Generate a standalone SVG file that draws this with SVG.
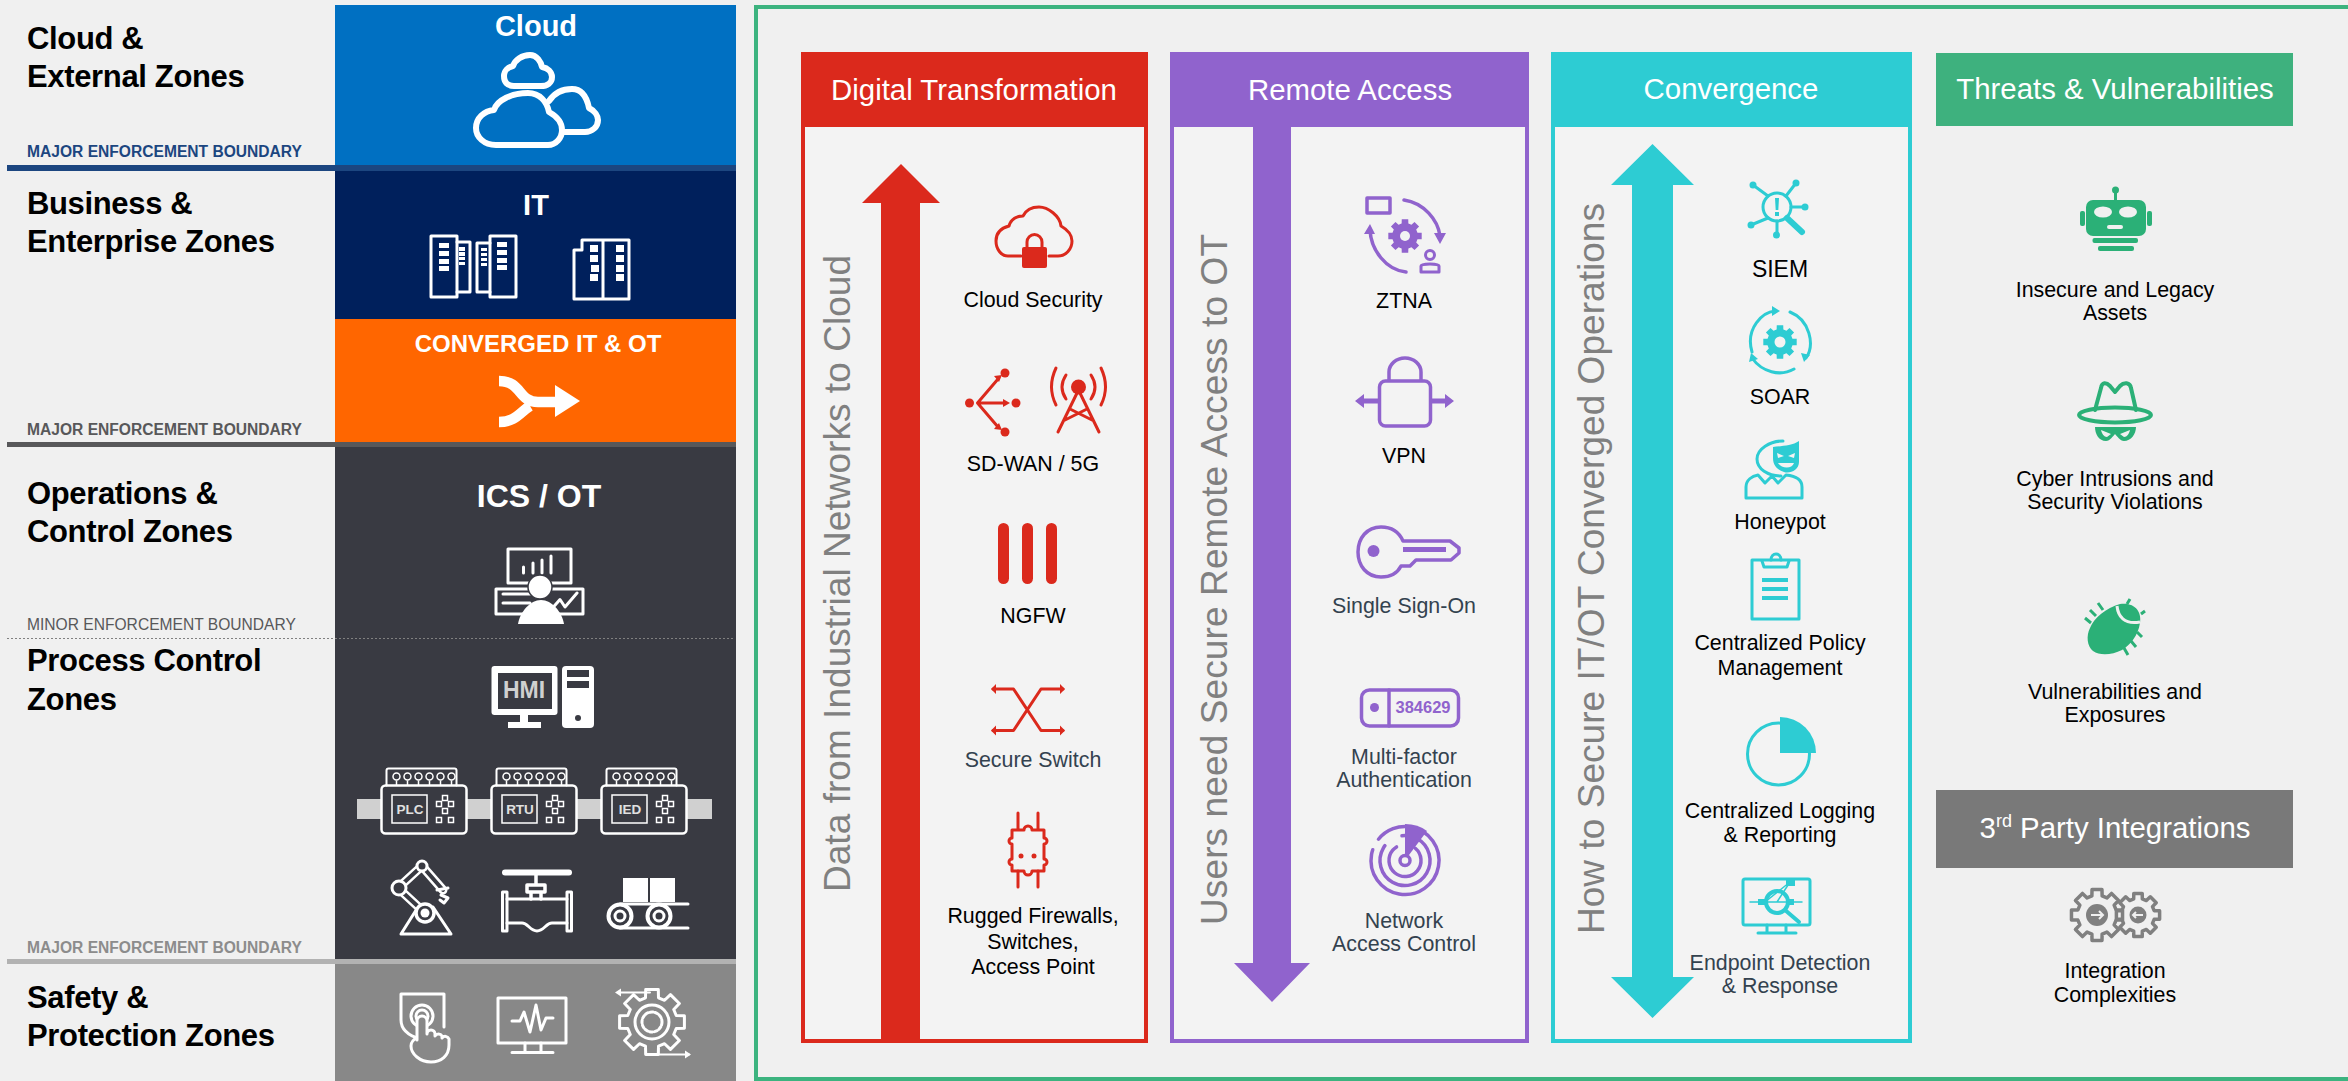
<svg xmlns="http://www.w3.org/2000/svg" xmlns:xlink="http://www.w3.org/1999/xlink" width="2348" height="1081" viewBox="0 0 2348 1081">
<style>
text{font-family:"Liberation Sans",Arial,sans-serif}
.zn{font-size:31px;font-weight:700;fill:#000;letter-spacing:-.35px}
.bd{font-size:15.6px;font-weight:700}
.tt{font-weight:700;fill:#fff;text-anchor:middle}
.hd{font-size:29.4px;fill:#fff;text-anchor:middle}
.vt{font-size:37px;fill:#808080}
.lb{font-size:21.4px;fill:#000;text-anchor:middle}
.sl{fill:#33424f}
.w{fill:none;stroke:#fff;stroke-width:3;stroke-linejoin:round;stroke-linecap:round}
.wf{fill:#fff}
.r{fill:none;stroke:#db291c;stroke-width:3;stroke-linejoin:round;stroke-linecap:round}
.rf{fill:#db291c}
.p{fill:none;stroke:#9063cd;stroke-width:3.5;stroke-linejoin:round;stroke-linecap:round}
.pf{fill:#9063cd}
.c{fill:none;stroke:#2dccd3;stroke-width:3;stroke-linejoin:round;stroke-linecap:round}
.cf{fill:#2dccd3}
.g{fill:none;stroke:#2bb077;stroke-width:4;stroke-linejoin:round;stroke-linecap:round}
.gf{fill:#2bb077}
.y{fill:none;stroke:#808080;stroke-width:3.5;stroke-linejoin:round}
.nss{vector-effect:non-scaling-stroke}
</style>
<defs>
<polygon id="gear" points=".982,-.191 .982,.191 .734,.197 .658,.38 .829,.559 .559,.829 .38,.658 .197,.734 .191,.982 -.191,.982 -.197,.734 -.38,.658 -.559,.829 -.829,.559 -.658,.38 -.734,.197 -.982,.191 -.982,-.191 -.734,-.197 -.658,-.38 -.829,-.559 -.559,-.829 -.38,-.658 -.197,-.734 -.191,-.982 .191,-.982 .197,-.734 .38,-.658 .559,-.829 .829,-.559 .658,-.38 .734,-.197" class="nss"/>
<g id="ctrl">
<rect x="0" y="0" width="85" height="48" rx="4" fill="#393a42" stroke="#fff" stroke-width="2.5"/>
<path d="M5,0V-15Q5,-17 7,-17H73Q75,-17 75,-15V0" class="w" style="stroke-width:2"/>
<g fill="none" stroke="#fff" stroke-width="1.5">
<circle cx="15" cy="-9" r="3.5"/><circle cx="26" cy="-9" r="3.5"/><circle cx="37" cy="-9" r="3.5"/><circle cx="48" cy="-9" r="3.5"/><circle cx="59" cy="-9" r="3.5"/><circle cx="70" cy="-9" r="3.5"/>
<path d="M15,-5V0M26,-5V0M37,-5V0M48,-5V0M59,-5V0M70,-5V0"/>
<rect x="10.500" y="9.500" width="35" height="28"/>
<rect x="61" y="10" width="5" height="5"/><rect x="55" y="16" width="5" height="5"/><rect x="67" y="16" width="5" height="5"/><rect x="61" y="23" width="5" height="5"/><rect x="55" y="32" width="5" height="5"/><rect x="67" y="32" width="5" height="5"/>
</g>
</g>
</defs>
<rect width="2348" height="1081" fill="#f0f0f0"/>

<g id="zones">
<rect x="335" y="5" width="401" height="161" fill="#0070c2"/>
<rect x="335" y="170" width="401" height="149" fill="#00205c"/>
<rect x="335" y="319" width="401" height="124" fill="#ff6600"/>
<rect x="335" y="447" width="401" height="513" fill="#393a42"/>
<rect x="335" y="964" width="401" height="117" fill="#888888"/>
</g>

<g id="connectors">
<rect x="7" y="165" width="729" height="6" fill="#1c4680"/>
<rect x="7" y="442" width="729" height="5" fill="#58585a"/>
<line x1="7" y1="638.500" x2="734" y2="638.500" stroke="#808080" stroke-width="1" stroke-dasharray="2 2"/>
<rect x="7" y="959" width="729" height="5" fill="#b2b2b2"/>
<rect x="756" y="7" width="2589" height="1072" fill="none" stroke="#3cb37f" stroke-width="4"/>
</g>

<g id="zone-labels">
<text class="zn" x="27" y="49">Cloud &amp;</text><text class="zn" x="27" y="87">External Zones</text>
<text class="zn" x="27" y="214">Business &amp;</text><text class="zn" x="27" y="252">Enterprise Zones</text>
<text class="zn" x="27" y="504">Operations &amp;</text><text class="zn" x="27" y="542">Control Zones</text>
<text class="zn" x="27" y="671">Process Control</text><text class="zn" x="27" y="710">Zones</text>
<text class="zn" x="27" y="1008">Safety &amp;</text><text class="zn" x="27" y="1046">Protection Zones</text>
<text class="bd" x="27" y="157" fill="#1c4680">MAJOR ENFORCEMENT BOUNDARY</text>
<text class="bd" x="27" y="434.500" fill="#58585a">MAJOR ENFORCEMENT BOUNDARY</text>
<text x="27" y="630" font-size="15.600" fill="#58585a">MINOR ENFORCEMENT BOUNDARY</text>
<text class="bd" x="27" y="953" fill="#8c8c8c">MAJOR ENFORCEMENT BOUNDARY</text>
</g>

<g id="cloud-block">
<text class="tt" x="536" y="36" font-size="29">Cloud</text>
<g class="w" style="stroke-width:6">
<path d="M514,86C507,86 504,82 504,76C504,71 508,67 513,66C515,60 522,55 530,55C537,55 541,62 542,67C548,68 552,72 552,77C552,83 547,86 541,86Z"/>
<path d="M549,101C553,95 560,89 572,89C582,89 587,98 589,108C595,111 598,116 598,120C598,127 592,132 585,132H563"/>
<path d="M496,145C484,145 476,137 476,128C476,118 484,111 494,110C497,100 512,93 528,93C540,93 547,102 549,112C558,117 562,124 562,130C562,138 556,145 548,145Z"/>
</g>
</g>

<g id="it-block">
<text class="tt" x="536" y="215" font-size="29">IT</text>
<g class="w">
<rect x="431" y="236" width="26" height="61"/><path d="M457,242H470V292H457"/><path d="M490,243H477V292H490"/><rect x="490" y="236" width="26" height="61"/>
<path d="M574,299V250H582V240H603V299ZM603,240H629V299H603"/>
</g>
<g class="wf">
<path d="M439,243h10v5h-10zM439,251h10v5h-10zM439,259h10v5h-10zM439,266h10v5h-10zM459,247h6v4h-6zM459,252h6v4h-6zM459,257h6v3h-6zM459,262h6v3h-6zM481,248h6v3h-6zM481,253h6v3h-6zM481,258h6v3h-6zM481,263h6v3h-6zM497,242h10v5h-10zM497,250h10v5h-10zM497,258h10v5h-10zM497,265h10v5h-10zM590,245h8v7h-8zM590,255h8v7h-8zM591,265h8v7h-8zM590,274h8v7h-8zM616,245h8v7h-8zM616,255h8v7h-8zM616,265h8v7h-8zM616,274h8v7h-8z"/>
</g>
</g>

<g id="converged-block">
<text class="tt" x="538" y="352" font-size="24">CONVERGED IT &amp; OT</text>
<path d="M499,381C522,381 518,402 538,402H558M499,422C516,422 520,412 530,406" fill="none" stroke="#fff" stroke-width="10.500"/>
<polygon class="wf" points="555,385 580,401 555,417"/>
</g>

<g id="ics-ot-block">
<text class="tt" x="539" y="507" font-size="32">ICS / OT</text>
<g class="w">
<rect x="508" y="549" width="63" height="34"/><rect x="496" y="589" width="87" height="25"/>
<path d="M523.500,573V567M533,573V563M542,573V560M551,573V556M503,594H530M503,603H530M552.500,608L560,599.500L565,607L577,593"/>
</g>
<circle cx="540" cy="587" r="12" fill="#fff" stroke="#393a42" stroke-width="1.500"/>
<path class="wf" d="M518,624C520,612 530,600 541,600C552,600 562,612 564,624Z"/>
</g>

<g id="hmi">
<rect x="491.500" y="666" width="66" height="49" rx="3" fill="#fff"/>
<rect x="498" y="673" width="54" height="36" fill="#393a42"/>
<text x="524" y="698" font-size="23" font-weight="700" fill="#d0d0d0" text-anchor="middle">HMI</text>
<path class="wf" d="M520,715h8v7h13v6h-33v-6h12z"/>
<rect x="562" y="666" width="32" height="62" rx="4" fill="#fff"/>
<path fill="#393a42" d="M567,670h22v7h-22zM567,681h22v7h-22z"/><circle cx="578" cy="718" r="3" fill="#393a42"/>
</g>

<g id="controllers">
<rect x="357" y="799" width="355" height="20" fill="#d0d0d0"/>
<use xlink:href="#ctrl" href="#ctrl" x="381.500" y="785.500"/>
<use xlink:href="#ctrl" href="#ctrl" x="491.500" y="785.500"/>
<use xlink:href="#ctrl" href="#ctrl" x="601.500" y="785.500"/>
<g font-size="13.500" font-weight="700" fill="#e0e0e0" text-anchor="middle">
<text x="410" y="814">PLC</text><text x="520" y="814">RTU</text><text x="630" y="814">IED</text>
</g>
</g>

<g id="field-devices">
<g class="w">
<path d="M401,934H451L433,907M401,934L418,907"/>
<path d="M425,913L398,888L422,866L443,890" fill="none" stroke="#fff" stroke-width="9"/>
<path d="M425,913L398,888L422,866L443,890" fill="none" stroke="#393a42" stroke-width="4"/>
<circle cx="425" cy="913" r="9" fill="#393a42" stroke-width="3.500"/><circle cx="425" cy="913" r="4.500" fill="#fff" stroke="none"/>
<circle cx="399" cy="888" r="7" fill="#393a42"/><circle cx="422" cy="866" r="5" fill="#393a42"/>
<path d="M437,890L448,888M441,895L448,898L444,903L440,900"/>
</g>
<g class="w">
<path d="M505,872.500H569" style="stroke-width:6"/>
<path d="M536,875V884M527,885H545V892H527ZM531,892V899M541,892V899" style="stroke-width:3.500"/>
<rect x="502.500" y="892" width="4.500" height="39"/><rect x="567" y="892" width="4.500" height="39"/>
<path d="M507,899H527C532,899 532,899 536,899H567M507,923H522C528,923 530,931 537,931C544,931 546,923 552,923H567"/>
</g>
<g>
<rect x="623" y="878" width="25" height="24" class="wf"/><rect x="650" y="878" width="25" height="24" class="wf"/>
<path class="w" d="M620,904H688M620,928H688"/>
<circle cx="620" cy="916" r="11.500" fill="#393a42" stroke="#fff" stroke-width="4"/><circle cx="620" cy="916" r="5" fill="none" stroke="#fff" stroke-width="3"/>
<circle cx="659" cy="916" r="11.500" fill="#393a42" stroke="#fff" stroke-width="4"/><circle cx="659" cy="916" r="5" fill="none" stroke="#fff" stroke-width="3"/>
</g>
</g>

<g id="safety-icons">
<g class="w">
<path d="M420,1039C410,1036 401,1030 401,1020V994H444V1027"/>
<circle cx="422" cy="1016" r="11"/><circle cx="422" cy="1016" r="6"/>
<path fill="#888888" d="M417,1040V1021a5,5 0 0 1 10,0V1034a4,4 0 0 1 8,0v2a4,4 0 0 1 7,0v2a4,4 0 0 1 7,1V1045C449,1056 441,1062 431,1062C420,1062 411,1054 411,1046C411,1042 414,1039 417,1038Z"/>
</g>
<g class="w">
<rect x="498" y="998" width="68" height="45"/><path d="M512,1021H520L524,1012L530,1032L536,1005L541,1030L546,1018H553M525,1043V1052M541,1043V1052M512,1052.500H553"/>
</g>
<g class="w">
<use href="#gear" xlink:href="#gear" transform="translate(652,1022) scale(33)"/>
<circle cx="652" cy="1022" r="17"/><circle cx="652" cy="1022" r="10" stroke-dasharray="3 2"/>
<path d="M618,992.500H650M654,1054.500H689" style="stroke-width:2"/>
</g>
<path class="wf" d="M615,992.500l6,-4v8zM691,1054.500l-6,-4v8z"/>
</g>

<g id="digital-transformation">
<rect x="803" y="54" width="343" height="987" fill="#f3f3f3" stroke="#db291c" stroke-width="4"/>
<rect x="801" y="52" width="347" height="75" class="rf"/>
<text class="hd" x="974" y="100">Digital Transformation</text>
<polygon class="rf" points="901,164 940,203 920,203 920,1043 881,1043 881,203 862,203"/>
<text class="vt" transform="translate(850,892) rotate(-90)" textLength="637">Data from Industrial Networks to Cloud</text>
</g>
<g id="cloud-security">
<path class="r" d="M1021,256H1008C1001,256 996,249 996,241C996,233 1001,228 1009,226C1011,219 1017,216 1023,216C1026,210 1032,207 1039,207C1048,207 1060,216 1061,226C1068,230 1072,235 1072,241C1072,249 1066,256 1058,256H1049"/>
<rect class="rf" x="1022" y="247" width="25" height="21" rx="2"/>
<path class="r" d="M1027,248V242a7.500,7.500 0 0 1 15,0V248"/>
<text class="lb" x="1033" y="307">Cloud Security</text>
</g>
<g id="sd-wan-5g">
<g class="rf"><ellipse cx="969.500" cy="403" rx="4.500" ry="4.500"/><circle cx="1005" cy="373" r="4.500"/><circle cx="1016" cy="403" r="4.500"/><circle cx="1005" cy="432" r="4.500"/><circle cx="1078.500" cy="387" r="7.500"/>
<path d="M1002,375l-8,1l5,6zM1010,403l-7,-4v8zM1002,430l-8,-1l5,-6z"/></g>
<path class="r" d="M977.500,403L998,379M977.500,403H1004M977.500,403L998,427"/>
<path class="r" d="M1056,368Q1047,387 1056,405M1101,368Q1110,387 1101,405M1066,375Q1058,387 1066,399M1091,375Q1099,387 1091,399M1078.500,390L1058,432M1078.500,390L1099,432M1070,409L1092,420M1087,409L1065,420"/>
<text class="lb" x="1033" y="471">SD-WAN / 5G</text>
</g>
<g id="ngfw">
<rect class="rf" x="998" y="523" width="11" height="61" rx="5.500"/><rect class="rf" x="1022" y="523" width="11" height="61" rx="5.500"/><rect class="rf" x="1046" y="523" width="11" height="61" rx="5.500"/>
<text class="lb" x="1033" y="623">NGFW</text>
</g>
<g id="secure-switch">
<path class="r" d="M993,689H1013.500L1041,730.500H1063M993,730.500H1013.500L1041,689H1063"/>
<path class="rf" d="M991,689l5,-5v10zM991,730.500l5,-5v10zM1065,689l-5,-5v10zM1065,730.500l-5,-5v10z"/>
<text class="lb sl" x="1033" y="767">Secure Switch</text>
</g>
<g id="rugged-firewalls">
<path class="r" d="M1018,813V829M1038,813V829M1018,871V887M1038,871V887"/>
<path class="r" d="M1012,830H1024a4,4 0 0 1 8,0H1044V838a3,3 0 0 1 0,6V859a3,3 0 0 1 0,6V871H1032a4,4 0 0 1 -8,0H1012V865a3,3 0 0 1 0,-6V844a3,3 0 0 1 0,-6Z"/>
<circle class="rf" cx="1021" cy="856" r="2.500"/><circle class="rf" cx="1034" cy="856" r="2.500"/>
<text class="lb" x="1033" y="923">Rugged Firewalls,</text><text class="lb" x="1033" y="949">Switches,</text><text class="lb" x="1033" y="974">Access Point</text>
</g>

<g id="remote-access">
<rect x="1172" y="54" width="355" height="987" fill="#f3f3f3" stroke="#9063cd" stroke-width="4"/>
<rect x="1170" y="52" width="359" height="75" class="pf"/>
<text class="hd" x="1350" y="100">Remote Access</text>
<polygon class="pf" points="1253,127 1291,127 1291,963 1310,963 1272,1002 1234,963 1253,963"/>
<text class="vt" transform="translate(1227,925) rotate(-90)" textLength="691">Users need Secure Remote Access to OT</text>
</g>
<g id="ztna">
<rect class="p" x="1367" y="198" width="23" height="15"/>
<path class="p" d="M1404,200C1424,203 1438,220 1440,236M1406,272C1386,270 1371,250 1370,230"/>
<path class="pf" d="M1434,233h12l-6,11zM1364,234h11l-5,-10z"/>
<use href="#gear" xlink:href="#gear" class="pf" transform="translate(1405,236) scale(17)"/><circle cx="1405" cy="236" r="5" fill="#f3f3f3"/>
<circle class="p" cx="1430" cy="255" r="4.500" style="stroke-width:3"/>
<path class="p" d="M1421,272V266Q1421,264 1430,264Q1439,264 1439,266V272Z" style="stroke-width:3"/>
<text class="lb" x="1404" y="308">ZTNA</text>
</g>
<g id="vpn">
<rect class="p" x="1379.500" y="381" width="51" height="45" rx="6"/>
<path class="p" d="M1389,380V372a16,14 0 0 1 32,0V380"/>
<path class="p" d="M1362,401H1378M1432,401H1448" style="stroke-width:5"/>
<path class="pf" d="M1355,401l9,-7v14zM1454,401l-9,-7v14z"/>
<text class="lb" x="1404" y="463">VPN</text>
</g>
<g id="single-sign-on">
<path class="p" d="M1403,541H1450L1459,548V553L1451,560H1416L1410,566H1401C1397,574 1389,577 1381,577C1367,577 1358,566 1358,552C1358,538 1367,527 1381,527C1391,527 1399,532 1403,541Z"/>
<circle class="pf" cx="1373.500" cy="551" r="6"/><rect class="pf" x="1403" y="547" width="43" height="5"/>
<text class="lb sl" x="1404" y="613">Single Sign-On</text>
</g>
<g id="mfa">
<rect class="p" x="1361.500" y="690" width="97" height="36" rx="8"/>
<path class="p" d="M1389,690V726"/><circle class="pf" cx="1374.500" cy="707.500" r="4.500"/>
<text x="1423" y="713" font-size="16.500" font-weight="700" class="pf" text-anchor="middle">384629</text>
<text class="lb sl" x="1404" y="764">Multi-factor</text><text class="lb sl" x="1404" y="787">Authentication</text>
</g>
<g id="nac">
<circle class="p" cx="1405" cy="860.500" r="34" stroke-dasharray="165 12" transform="rotate(-80 1405 860.500)"/>
<circle class="p" cx="1405" cy="860.500" r="25" stroke-dasharray="120 20" transform="rotate(-60 1405 860.500)"/>
<circle class="p" cx="1405" cy="860.500" r="16" stroke-dasharray="80 20" transform="rotate(-50 1405 860.500)"/>
<circle class="p" cx="1405" cy="860.500" r="5"/>
<path class="pf" d="M1405,824Q1418,824 1427,831L1409,855H1405Z"/>
<text class="lb sl" x="1404" y="928">Network</text><text class="lb sl" x="1404" y="951">Access Control</text>
</g>

<g id="convergence">
<rect x="1553" y="54" width="357" height="987" fill="#f3f3f3" stroke="#2dccd3" stroke-width="4"/>
<rect x="1551" y="52" width="361" height="75" class="cf"/>
<text class="hd" x="1731" y="99">Convergence</text>
<polygon class="cf" points="1652.500,144 1694,185 1673,185 1673,977 1694,977 1652.500,1018 1611,977 1632,977 1632,185 1611,185"/>
<text class="vt" transform="translate(1604,934) rotate(-90)" textLength="731">How to Secure IT/OT Converged Operations</text>
</g>
<g id="siem">
<circle class="c" cx="1777" cy="207" r="14"/>
<path class="c" d="M1768,196L1753,185M1786,196L1796,183M1791,207H1805M1777,221V235M1768,218L1751,225"/>
<g class="cf"><circle cx="1753" cy="185" r="3.500"/><circle cx="1796" cy="183" r="3.500"/><circle cx="1805" cy="207" r="3.500"/><circle cx="1776.500" cy="235" r="3.500"/><circle cx="1751" cy="225" r="3.500"/>
<path d="M1775,198h4l-.7,12h-2.600zM1775,212h4v4h-4z"/></g>
<path class="c" d="M1787,218L1802,232" style="stroke-width:6"/>
<text class="lb" x="1780" y="277" style="font-size:23px">SIEM</text>
</g>
<g id="soar">
<path class="c" d="M1752,352C1745,328 1763,312 1775,311M1790,312C1810,320 1815,345 1806,358M1794,369C1780,377 1762,372 1752,358"/>
<path class="cf" d="M1780,311l-8,-5v10zM1804,362l-3,-9l9,2zM1751,353l-2,9l9,-3z"/>
<use href="#gear" xlink:href="#gear" class="cf" transform="translate(1780,342) scale(17)"/><circle cx="1780" cy="342" r="5.500" fill="#f3f3f3"/>
<text class="lb" x="1780" y="404">SOAR</text>
</g>
<g id="honeypot">
<path class="c" d="M1783,441C1770,441 1757,449 1757,459C1757,469 1768,476 1781,476"/>
<path class="cf" d="M1773,447C1780,446 1792,446 1799,441V462C1799,470 1790,474 1784,472C1778,470 1773,466 1773,458Z"/>
<path fill="#f3f3f3" d="M1777,453l7,3l-6,2zM1795,453l-7,3l6,2zM1778,463h16c-2,6 -12,6 -16,0z"/>
<path class="c" d="M1746,498V487C1746,480 1752,476 1758,475L1765,483L1772,476L1778,483L1786,475C1796,476 1802,480 1802,487V498Z"/>
<text class="lb" x="1780" y="529">Honeypot</text>
</g>
<g id="policy">
<rect class="c" x="1752" y="560" width="47" height="59"/>
<path class="c" d="M1762,561L1764,567H1787L1789,561M1771,560C1771,552 1781,552 1781,560"/>
<path class="cf" d="M1762,578h26v4h-26zM1762,587h26v4h-26zM1762,596h26v4h-26z"/>
<text class="lb" x="1780" y="650">Centralized Policy</text><text class="lb" x="1780" y="675">Management</text>
</g>
<g id="logging">
<circle class="c" cx="1778.500" cy="754" r="31"/>
<path class="cf" d="M1780,753V717A36,36 0 0 1 1816,753Z"/>
<text class="lb" x="1780" y="818">Centralized Logging</text><text class="lb" x="1780" y="842">&amp; Reporting</text>
</g>
<g id="edr">
<rect class="c" x="1743" y="879" width="67" height="46" rx="2"/>
<path class="c" d="M1767,925V933M1786,925V933M1758,933H1796"/>
<circle class="c" cx="1777" cy="902" r="11" style="stroke-width:4"/>
<path class="c" d="M1785,910L1799,922" style="stroke-width:4"/><path class="c" d="M1750,902H1802M1777,902L1790,882M1765,902L1790,882" style="stroke-width:1.500"/>
<path class="cf" d="M1758,899h8v6h-8zM1786,879h9v7h-9zM1787,899h7v6h-7z"/>
<text class="lb sl" x="1780" y="970">Endpoint Detection</text><text class="lb sl" x="1780" y="993">&amp; Response</text>
</g>

<g id="threats-header">
<rect x="1936" y="53" width="357" height="73" fill="#3eb17e"/>
<text class="hd" x="2115" y="99">Threats &amp; Vulnerabilities</text>
</g>
<g id="legacy-assets">
<path class="g" d="M2115.500,190V200" style="stroke-width:3"/><circle class="gf" cx="2115.500" cy="190" r="3.500"/>
<rect class="gf" x="2086" y="200" width="60" height="36" rx="7"/><rect class="gf" x="2080" y="211" width="5" height="15" rx="2"/><rect class="gf" x="2147" y="211" width="5" height="15" rx="2"/>
<g fill="#f0f0f0"><ellipse cx="2103" cy="212" rx="9" ry="5.500"/><ellipse cx="2128" cy="212" rx="9" ry="5.500"/><rect x="2107" y="225" width="16" height="4" rx="2"/></g>
<rect class="gf" x="2092.500" y="238" width="45.500" height="5" rx="2"/><rect class="gf" x="2098" y="246" width="36" height="5" rx="2"/>
<text class="lb" x="2115" y="297">Insecure and Legacy</text><text class="lb" x="2115" y="320">Assets</text>
</g>
<g id="cyber-intrusions">
<path class="g" d="M2095,410L2101,388C2102,382 2106,382 2110,386L2115,392L2120,386C2124,382 2130,382 2131,388L2136,410"/>
<ellipse class="g" cx="2115" cy="415" rx="36" ry="7.500"/>
<path class="gf" d="M2095,427H2136C2136,434 2131,441 2124,441C2120,441 2117,436 2115,434C2113,436 2110,441 2106,441C2099,441 2095,434 2095,427Z"/>
<path fill="#f0f0f0" d="M2101,430L2111,434L2107,437C2104,437 2102,434 2101,430ZM2130,430L2120,434L2124,437C2127,437 2129,434 2130,430Z"/>
<text class="lb" x="2115" y="486">Cyber Intrusions and</text><text class="lb" x="2115" y="509">Security Violations</text>
</g>
<g id="vulnerabilities">
<path class="gf" d="M2120,604C2135,602 2142,612 2140,623C2138,636 2130,645 2122,650C2112,655 2100,656 2093,651C2087,646 2086,636 2090,628C2094,618 2106,608 2120,604Z"/>
<path d="M2117,606C2118,616 2124,625 2140,622" fill="none" stroke="#f0f0f0" stroke-width="3"/>
<path d="M2103,610L2098,603M2096,616L2090,610M2091,623L2085,618M2124,648L2128,655M2131,641L2136,647M2137,632L2142,637M2127,604L2130,599M2141,614L2145,611" fill="none" stroke="#2bb077" stroke-width="3"/>
<text class="lb" x="2115" y="699">Vulnerabilities and</text><text class="lb" x="2115" y="722">Exposures</text>
</g>
<g id="third-party-header">
<rect x="1936" y="790" width="357" height="78" fill="#797979"/>
<text class="hd" x="2115" y="838">3<tspan font-size="18" dy="-11">rd</tspan><tspan dy="11"> Party Integrations</tspan></text>
</g>
<g id="integration">
<use href="#gear" xlink:href="#gear" class="y" transform="translate(2097,915) scale(26)"/>
<use href="#gear" xlink:href="#gear" class="y" transform="translate(2138,915) scale(22)" fill="#f0f0f0"/>
<circle cx="2097" cy="915" r="11" fill="#808080"/><circle cx="2138" cy="915" r="8.500" fill="#808080"/>
<path d="M2091,915H2102M2099,911l4,4l-4,4M2143,915H2133M2136,912l-3,3l3,3" fill="none" stroke="#f0f0f0" stroke-width="2"/>
<text class="lb" x="2115" y="978">Integration</text><text class="lb" x="2115" y="1002">Complexities</text>
</g>
</svg>
